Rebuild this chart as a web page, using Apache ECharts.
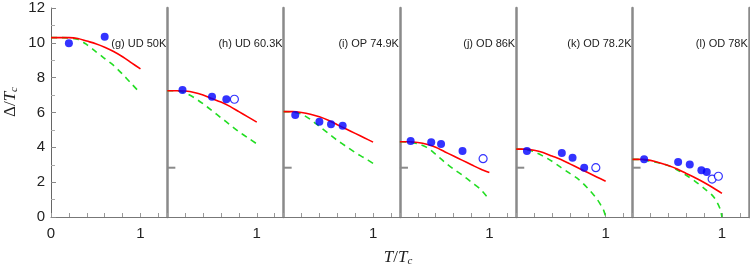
<!DOCTYPE html>
<html>
<head>
<meta charset="utf-8">
<script src="https://cdn.jsdelivr.net/npm/echarts@6/dist/echarts.min.js"></script>
<style>
  html, body { margin: 0; padding: 0; background: #fff; }
  #chart { width: 750px; height: 271px; }
</style>
</head>
<body>
<div id="chart"></div>
<script>
// panel captions
const panelLabels = ['(g) UD 50K', '(h) UD 60.3K', '(i) OP 74.9K', '(j) OD 86K', '(k) OD 78.2K', '(l) OD 78K'];
const xTickLabels = ['0', '1'];
const yTickLabels = [0, 2, 4, 6, 8, 10, 12];
const gapMark = 2.83;

// red solid curves, [T/Tc, Δ/Tc]
const redCurves = [
  [[0,10.3],[0.1,10.3],[0.2,10.3],[0.3,10.25],[0.4,10.1],[0.5,9.95],[0.6,9.75],[0.7,9.5],[0.8,9.2],[0.9,8.85],[1.0,8.5]],
  [[0,7.25],[0.1,7.25],[0.2,7.23],[0.3,7.15],[0.4,7.0],[0.5,6.8],[0.6,6.6],[0.7,6.35],[0.8,6.05],[0.9,5.75],[1.0,5.45]],
  [[0,6.05],[0.1,6.05],[0.2,6.0],[0.3,5.9],[0.4,5.75],[0.5,5.55],[0.6,5.3],[0.7,5.05],[0.8,4.8],[0.9,4.55],[1.0,4.3]],
  [[0,4.32],[0.1,4.32],[0.2,4.28],[0.3,4.18],[0.4,4.0],[0.5,3.75],[0.6,3.5],[0.7,3.25],[0.8,3.0],[0.9,2.75],[1.0,2.55]],
  [[0,3.9],[0.1,3.9],[0.2,3.83],[0.3,3.7],[0.4,3.5],[0.5,3.3],[0.6,3.05],[0.7,2.8],[0.8,2.55],[0.9,2.3],[1.0,2.05]],
  [[0,3.31],[0.1,3.31],[0.2,3.25],[0.3,3.12],[0.4,2.95],[0.5,2.75],[0.6,2.5],[0.7,2.25],[0.8,1.98],[0.9,1.68],[1.0,1.36]]
];

// green dashed curves
const greenCurves = [
  [[0,10.3],[0.1,10.3],[0.2,10.28],[0.3,10.2],[0.4,9.9],[0.5,9.5],[0.6,9.1],[0.7,8.7],[0.8,8.2],[0.9,7.65],[1.0,7.1]],
  [[0,7.25],[0.1,7.25],[0.2,7.12],[0.3,6.85],[0.4,6.5],[0.5,6.1],[0.6,5.7],[0.7,5.3],[0.8,4.9],[0.9,4.55],[1.0,4.2]],
  [[0,6.05],[0.1,6.03],[0.2,5.9],[0.3,5.6],[0.4,5.2],[0.5,4.8],[0.6,4.4],[0.7,4.05],[0.8,3.7],[0.9,3.4],[1.0,3.08]],
  [[0,4.32],[0.1,4.3],[0.2,4.2],[0.3,4.0],[0.4,3.6],[0.5,3.15],[0.6,2.75],[0.7,2.4],[0.8,2.0],[0.9,1.6],[1.0,1.0]],
  [[0,3.9],[0.1,3.88],[0.2,3.75],[0.3,3.5],[0.4,3.2],[0.5,2.85],[0.6,2.5],[0.7,2.15],[0.8,1.65],[0.9,1.05],[0.95,0.65],[0.98,0.35],[1.0,0]],
  [[0,3.31],[0.1,3.3],[0.2,3.2],[0.3,3.1],[0.4,2.95],[0.5,2.7],[0.6,2.4],[0.7,2.05],[0.8,1.65],[0.9,1.2],[0.95,0.8],[0.98,0.45],[1.0,0]]
];

// measured gaps: filled and open symbols
const filledPoints = [
  [[0.2,9.97],[0.6,10.35]],
  [[0.17,7.29],[0.5,6.91],[0.66,6.76]],
  [[0.13,5.86],[0.4,5.47],[0.53,5.32],[0.66,5.24]],
  [[0.12,4.36],[0.35,4.29],[0.46,4.19],[0.7,3.79]],
  [[0.12,3.79],[0.51,3.67],[0.63,3.4],[0.76,2.83]],
  [[0.13,3.31],[0.51,3.16],[0.64,3.02],[0.77,2.68],[0.83,2.58]]
];
const openPoints = [
  [],
  [[0.75,6.76]],
  [],
  [[0.93,3.35]],
  [[0.89,2.83]],
  [[0.89,2.18],[0.96,2.34]]
];

const chart = echarts.init(document.getElementById('chart'));

const left0 = 51, panelW = 116.3, top0 = 8, panelH = 209;
const axisGray = '#8a8a8a';

const grid = [], xAxis = [], yAxis = [], series = [], graphic = [];

panelLabels.forEach((label, i) => {
  grid.push({ left: left0 + i * panelW, top: top0, width: panelW, height: panelH });
  xAxis.push({
    type: 'value', gridIndex: i, min: 0, max: 1.3, interval: 0.2,
    axisLine: { lineStyle: { color: '#777', width: 1 } },
    axisTick: { inside: true, length: 4, lineStyle: { color: '#999' } },
    splitLine: { show: false },
    axisLabel: {
      fontFamily: 'Liberation Sans, Arial', fontSize: 15, color: '#222', margin: 9,
      showMaxLabel: false,
      formatter: v => {
        if (Math.abs(v - 1) < 1e-6) return xTickLabels[1];
        if (i === 0 && Math.abs(v) < 1e-6) return xTickLabels[0];
        return '';
      }
    }
  });
  yAxis.push({
    type: 'value', gridIndex: i, min: 0, max: 12, interval: 2,
    splitLine: { show: false },
    axisLine: { show: true, lineStyle: i === 0 ? { color: '#666', width: 1 } : { color: axisGray, width: 2.5 } },
    axisTick: { show: i === 0, inside: true, length: 5, lineStyle: { color: '#888' } },
    minorTick: { show: i === 0, splitNumber: 2, length: 4, lineStyle: { color: '#aaa' } },
    axisLabel: {
      show: i === 0, fontFamily: 'Liberation Sans, Arial', fontSize: 15, color: '#222', margin: 6,
      formatter: v => yTickLabels.includes(v) ? String(v) : ''
    }
  });

  series.push({
    type: 'line', xAxisIndex: i, yAxisIndex: i, data: greenCurves[i], smooth: 0.3,
    showSymbol: false, silent: true, z: 2,
    lineStyle: { color: '#22dd22', width: 1.6, type: [6, 5] }
  });
  series.push({
    type: 'line', xAxisIndex: i, yAxisIndex: i, data: redCurves[i], smooth: 0.3,
    showSymbol: false, silent: true, z: 3,
    lineStyle: { color: '#ff0000', width: 1.6 }
  });
  series.push({
    type: 'scatter', xAxisIndex: i, yAxisIndex: i, data: filledPoints[i], symbolSize: 8, z: 4,
    itemStyle: { color: '#0000ff' }
  });
  series.push({
    type: 'scatter', xAxisIndex: i, yAxisIndex: i, data: openPoints[i], symbolSize: 8, z: 4,
    itemStyle: { color: '#fff', borderColor: '#0000ff', borderWidth: 1.2 }
  });
  if (i > 0) {
    series.push({
      type: 'line', xAxisIndex: i, yAxisIndex: i, data: [[0, gapMark], [0.09, gapMark]],
      showSymbol: false, silent: true, z: 1,
      lineStyle: { color: axisGray, width: 2 }
    });
  }
  graphic.push({
    type: 'text', right: 750 - (left0 + (i + 1) * panelW) + 1, top: 38,
    style: { text: label, font: '11px "Liberation Sans", Arial', fill: '#222' }
  });
});

// right border of the last panel
yAxis.push({
  type: 'value', gridIndex: 5, position: 'right', min: 0, max: 12,
  axisLine: { show: true, lineStyle: { color: axisGray, width: 2.5 } },
  axisTick: { show: false }, axisLabel: { show: false }, splitLine: { show: false }
});

const serifRich = {
  t: { fontFamily: 'Liberation Serif', fontStyle: 'italic', fontSize: 17, fill: '#222' },
  d: { fontFamily: 'Liberation Serif', fontSize: 17, fill: '#222' },
  s: { fontFamily: 'Liberation Serif', fontStyle: 'italic', fontSize: 11, fill: '#222', verticalAlign: 'bottom', padding: [7, 0, 0, 0] }
};

// axis titles
graphic.push({
  type: 'text', x: 11, y: 102, rotation: Math.PI / 2,
  style: { text: '{d|Δ/}{t|T}{s|c}', rich: serifRich, align: 'center', verticalAlign: 'middle' }
});
graphic.push({
  type: 'text', x: 398, y: 258,
  style: { text: '{t|T}{d|/}{t|T}{s|c}', rich: serifRich, align: 'center', verticalAlign: 'middle' }
});

chart.setOption({
  animation: false,
  backgroundColor: '#fff',
  grid, xAxis, yAxis, series, graphic
});
</script>
</body>
</html>
